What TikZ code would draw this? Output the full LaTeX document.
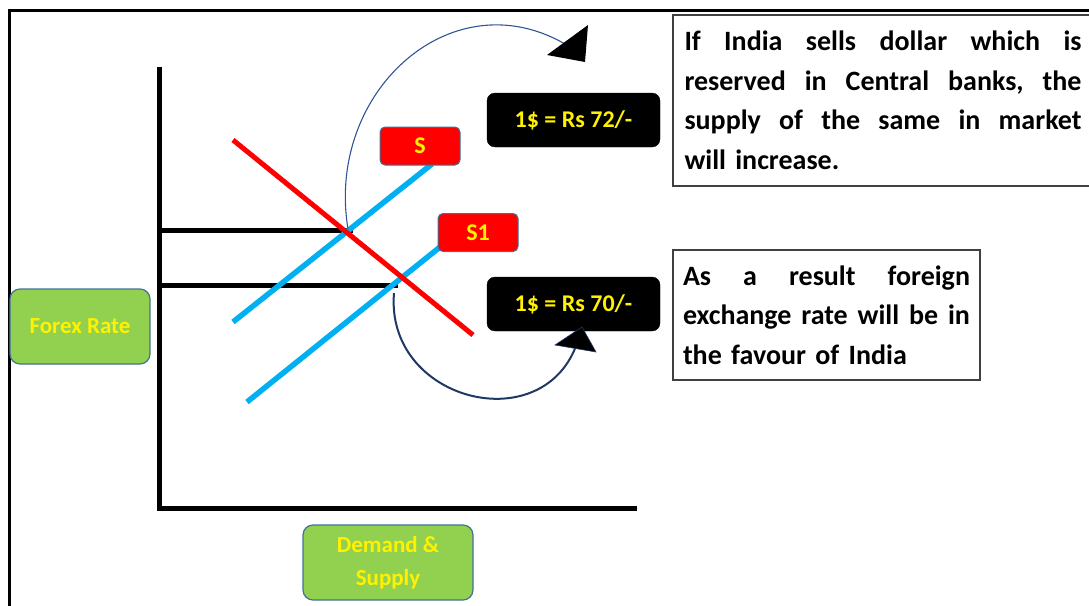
\documentclass[tikz,border=0pt]{standalone}
\usepackage{fontspec}
\setmainfont{Carlito}
\definecolor{leaf}{HTML}{92D050}
\definecolor{edgeblue}{HTML}{41719C}
\definecolor{skyline}{HTML}{00B0F0}
\definecolor{arcblue}{HTML}{2F5597}
\definecolor{navy}{HTML}{203864}
\definecolor{framegray}{HTML}{404040}
% a line set to a fixed width, words spread apart
\newcommand\spreadline[2]{\leavevmode\hbox to #1{#2}}
\begin{document}
\begin{tikzpicture}[x=1pt,y=-1pt,
  every node/.style={inner sep=0pt,outer sep=0pt},
  axisline/.style={line width=5pt,black},
  levelline/.style={line width=5pt,black},
  supplyline/.style={line width=5.5pt,skyline},
  demandline/.style={line width=5pt,red},
  greenbox/.style={fill=leaf,draw=edgeblue,line width=1.2pt,rounded corners=10pt,
    text=yellow,align=center,font=\bfseries\fontsize{23}{33}\selectfont},
  redtag/.style={fill=red,draw=edgeblue,line width=1pt,rounded corners=5pt,
    text=yellow,minimum width=80pt,minimum height=38pt,font=\bfseries\fontsize{24}{28}\selectfont},
  ratetag/.style={fill=black,draw=black,rounded corners=8pt,
    text=yellow,minimum width=173pt,minimum height=54pt,font=\bfseries\fontsize{24}{28}\selectfont},
  notebox/.style={fill=white,draw=framegray,line width=1.3pt,anchor=north west,
    align=left,text=black,font=\bfseries\fontsize{28}{39.5}\selectfont},
  arcline/.style={line width=1.1pt,arcblue},
  arcline2/.style={line width=2pt,navy},
  tiphead/.style={fill=black,draw=navy,line width=0.6pt,line join=miter}
]
\useasboundingbox (0,0) rectangle (1089,605);

% outer frame (top and left edges)
\draw[line width=2.5pt,black] (9.5,610) -- (9.5,10.5) -- (1100,10.5);

% axes
\coordinate (ytop) at (159,67);
\coordinate (origin) at (159,508);
\coordinate (xend) at (637,508);
\draw[axisline] (ytop) -- (origin) -- (xend);

% price levels
\coordinate (lvA) at (159,230);
\coordinate (eqA) at (353,230);
\coordinate (lvB) at (159,285);
\coordinate (eqB) at (398,285);
\draw[levelline] (lvA) -- (eqA);
\draw[levelline] (lvB) -- (eqB);

% supply curves
\coordinate (sLow) at (233,322);
\coordinate (sHigh) at (432,164);
\coordinate (s1Low) at (247,402);
\coordinate (s1High) at (440,247);
\draw[supplyline] (sLow) -- (sHigh);
\draw[supplyline] (s1Low) -- (s1High);

% demand curve
\coordinate (dHigh) at (233,140);
\coordinate (dLow) at (473,335);
\draw[demandline] (dHigh) -- (dLow);

% labels
\node[redtag] (S) at (420,146) {S};
\node[redtag] (S1) at (478,232.5) {S1};
\node[ratetag] (r72) at (573.5,120) {1\$ = Rs 72/-};
\node[ratetag] (r70) at (573.5,304) {1\$ = Rs 70/-};
\node[greenbox,minimum width=140pt,minimum height=75pt] (forex) at (80,326.5) {Forex Rate};
\node[greenbox,minimum width=170pt,minimum height=75pt] (ds) at (388,562.5) {Demand \&\\Supply};

% explanatory notes
\node[notebox,minimum width=420pt,minimum height=171pt,text width=397pt,inner xsep=10pt] (note1) at (673,15)
  {\spreadline{397pt}{If\hfill India\hfill sells\hfill dollar\hfill which\hfill is}\\
   \spreadline{397pt}{reserved\hfill in\hfill Central\hfill banks,\hfill the}\\
   \spreadline{397pt}{supply\hfill of\hfill the\hfill same\hfill in\hfill market}\\
   will increase.};
\node[notebox,minimum width=307pt,minimum height=130pt,text width=287pt,inner xsep=10pt] (note2) at (673,250)
  {\spreadline{287pt}{As\hfill a\hfill result\hfill foreign}\\
   \spreadline{287pt}{exchange\hfill rate\hfill will\hfill be\hfill in}\\
   the favour of India};

% curved arrows
\coordinate (arcAstart) at (348,229);
\coordinate (arcAend) at (570,47);
\draw[arcline] (arcAstart) .. controls (325,90) and (455,-25) .. (arcAend);
\coordinate (tipA) at (588,25);
\coordinate (tipAl) at (547,55);
\coordinate (tipAr) at (585,62);
\fill[black] (tipA) -- (tipAl) -- (tipAr) -- cycle;

\coordinate (arcBstart) at (394,293);
\coordinate (arcBend) at (576,346);
\draw[arcline2] (arcBstart) .. controls (385,400) and (540,440) .. (arcBend);
\coordinate (tipB) at (582,327);
\coordinate (tipBl) at (555,345);
\coordinate (tipBr) at (596,352);
\filldraw[tiphead] (tipB) -- (tipBl) -- (tipBr) -- cycle;
\end{tikzpicture}
\end{document}
